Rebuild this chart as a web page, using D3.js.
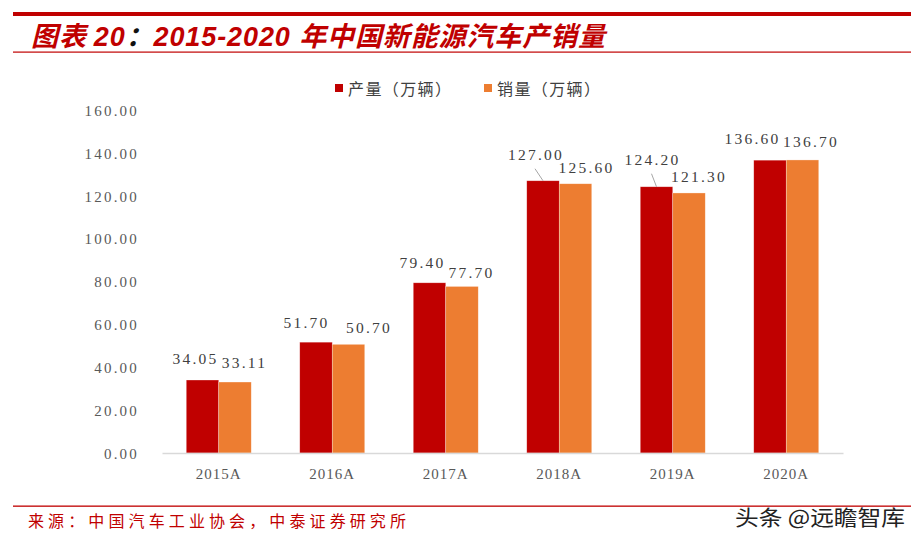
<!DOCTYPE html>
<html><head><meta charset="utf-8">
<script src="https://cdn.jsdelivr.net/npm/d3@7/dist/d3.min.js"></script>
<style>
html,body{margin:0;padding:0;background:#fff;}
svg{display:block;}
</style></head>
<body>
<svg id="chart" width="919" height="543"></svg>
<script>
const categories = ["2015A","2016A","2017A","2018A","2019A","2020A"];
const seriesNames = ["产量（万辆）","销量（万辆）"];
const production = [34.05, 51.70, 79.40, 127.00, 124.20, 136.60];
const sales = [33.11, 50.70, 77.70, 125.60, 121.30, 136.70];
const yTicks = [0,20,40,60,80,100,120,140,160];
const sourceText = "来源：中国汽车工业协会，中泰证券研究所";
const watermark = "头条 @远瞻智库";

// label nudges (layout only): [dx, dy] relative to bar centre / bar top
const labelNudge = [
  [[-8,-22],[8.5,-20]],
  [[-10.5,-20],[19.5,-17]],
  [[-8,-20],[8.5,-14]],
  [[-8,-26],[10,-16]],
  [[-5,-27],[9,-16]],
  [[-18.5,-22],[7.5,-18]]
];
const leader = [[false,false],[false,false],[false,false],[true,false],[true,false],[false,false]];

const colors = ["#c00000","#ed7d31"];
const svg = d3.select("#chart");

// header lines
svg.append("rect").attr("x",13).attr("y",12).attr("width",898).attr("height",4).attr("fill","#c00000");
svg.append("rect").attr("x",13).attr("y",51.5).attr("width",898).attr("height",1.2).attr("fill","#c00000");

// title
const t = svg.append("text").attr("x",31).attr("y",46)
  .attr("font-family","'Noto Sans CJK SC', 'Liberation Sans', sans-serif")
  .attr("font-size",27).attr("font-weight","bold").attr("font-style","italic")
  .attr("fill","#c00000").attr("textLength",574).attr("lengthAdjust","spacing");
t.append("tspan").text("图表 ");
t.append("tspan").attr("font-family","'Liberation Sans', Arial, sans-serif").text("20");
t.append("tspan").attr("fill","#111").text("：");
t.append("tspan").attr("font-family","'Liberation Sans', Arial, sans-serif").text("2015-2020 ");
t.append("tspan").text("年中国新能源汽车产销量");

// scales
const x0 = d3.scaleBand().domain(categories).range([162,843]).padding(0);
const groupW = 65;
const x1 = d3.scaleBand().domain(seriesNames)
  .range([x0.bandwidth()/2 - groupW/2, x0.bandwidth()/2 + groupW/2]).padding(0);
const y = d3.scaleLinear().domain([0,160]).range([453,110]);

// y axis labels
const yAxis = d3.axisLeft(y).tickValues(yTicks).tickFormat(d3.format(".2f")).tickSize(0).tickPadding(0);
const gy = svg.append("g").attr("transform","translate(139,0)").call(yAxis);
gy.select(".domain").remove();
gy.selectAll("text").attr("font-family","'Liberation Serif', serif").attr("font-size",15)
  .attr("fill","#595959").attr("letter-spacing","2.2px").attr("dy","0.35em");

// bars
const data = categories.map((c,i)=>({cat:c, i, vals:[production[i], sales[i]]}));
const groups = svg.append("g").selectAll("g").data(data).join("g")
  .attr("transform", d=>`translate(${x0(d.cat)},0)`);
groups.selectAll("rect").data(d=>d.vals.map((v,k)=>({v,k,i:d.i}))).join("rect")
  .attr("x", d=>x1(seriesNames[d.k]))
  .attr("y", d=>y(d.v))
  .attr("width", x1.bandwidth())
  .attr("height", d=>y(0)-y(d.v))
  .attr("fill", d=>colors[d.k])
  .attr("stroke","#fff").attr("stroke-opacity",0.5).attr("stroke-width",0.6);

// x axis
const xAxis = d3.axisBottom(x0).tickSize(0).tickPadding(0);
const gx = svg.append("g").attr("transform","translate(0,453)").call(xAxis);
gx.select(".domain").attr("stroke","#d9d9d9").attr("stroke-width",1.5);
gx.selectAll("text").attr("font-family","'Liberation Serif', serif").attr("font-size",15)
  .attr("fill","#595959").attr("letter-spacing","1px").attr("y",26).attr("dy","0");

// data labels
groups.each(function(d){
  const g = d3.select(this);
  d.vals.forEach((v,k)=>{
    const cx = x1(seriesNames[k]) + x1.bandwidth()/2;
    const top = y(v);
    const [dx,dy] = labelNudge[d.i][k];
    const lx = cx+dx, ly = top+dy;
    if (leader[d.i][k]) {
      g.append("line").attr("x1",lx).attr("y1",ly+14).attr("x2",cx).attr("y2",top)
        .attr("stroke","#a6a6a6").attr("stroke-width",1);
    }
    g.append("text").attr("x",lx+1).attr("y",ly+5.5).attr("text-anchor","middle")
      .attr("font-family","'Liberation Serif', serif").attr("font-size",15.5)
      .attr("letter-spacing","2.2px").attr("fill","#404040")
      .text(d3.format(".2f")(v));
  });
});

// legend
const legendX = [335, 484];
seriesNames.forEach((n,k)=>{
  svg.append("rect").attr("x",legendX[k]).attr("y",84).attr("width",8).attr("height",8).attr("fill",colors[k]);
  svg.append("text").attr("x",legendX[k]+13).attr("y",94.5)
    .attr("font-family","'Noto Sans CJK SC', sans-serif").attr("font-size",16)
    .attr("letter-spacing","1.4px").attr("fill","#404040").text(n);
});

// footer
svg.append("rect").attr("x",13).attr("y",505.5).attr("width",898).attr("height",1.3).attr("fill","#c00000");
svg.append("text").attr("x",28).attr("y",527)
  .attr("font-family","'Noto Sans CJK SC', sans-serif").attr("font-size",16)
  .attr("fill","#c00000").attr("textLength",378).attr("lengthAdjust","spacing").text(sourceText);
svg.append("text").attr("x",735).attr("y",525)
  .attr("font-family","'Noto Sans CJK SC', sans-serif").attr("font-size",21)
  .attr("fill","#222").attr("stroke","#fff").attr("stroke-width",0.5).attr("paint-order","stroke")
  .attr("textLength",170).attr("lengthAdjust","spacingAndGlyphs").text(watermark);
</script>
</body></html>
